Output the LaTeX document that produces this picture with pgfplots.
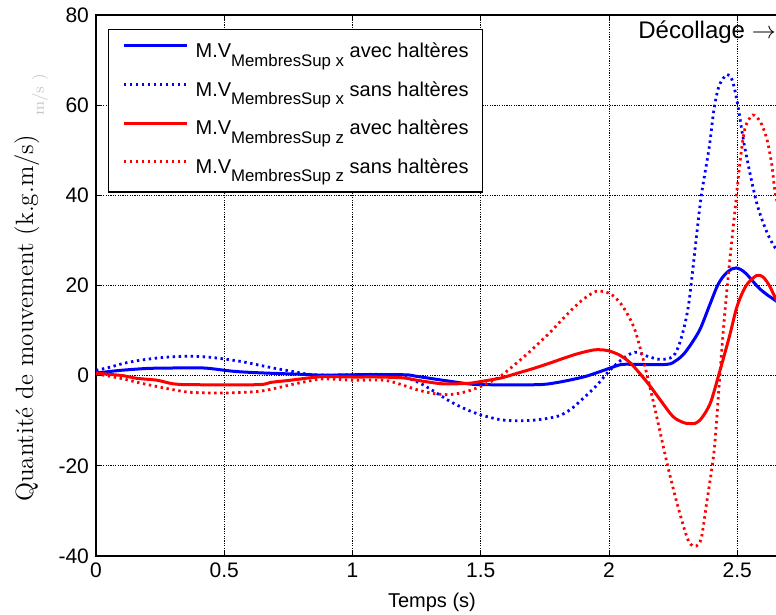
\documentclass[border=0pt]{standalone}
\usepackage{fontspec}
\newfontfamily\arial{Liberation Sans}
\usepackage{pgfplots}
\pgfplotsset{compat=1.18}
\usetikzlibrary{calc}
\newcommand{\sub}[1]{\raisebox{-4.3pt}{\fontsize{8.4}{9}\selectfont #1}}
\definecolor{mblue}{RGB}{0,0,255}
\definecolor{mred}{RGB}{255,0,0}

\pgfplotstableread{
t v
0 0.6
0.05 0.9
0.1 1.2
0.2 1.6
0.3 1.7
0.42 1.7
0.5 1.2
0.55 0.9
0.65 0.6
0.8 0.3
0.88 0.1
1.0 0.2
1.2 0.2
1.25 -0.15
1.35 -1.0
1.45 -1.8
1.51 -2.0
1.72 -2.0
1.80 -1.5
1.90 -0.3
1.96 0.8
2.0 1.6
2.05 2.5
2.1 2.5
2.225 2.5
2.26 3.3
2.29 4.7
2.32 7.0
2.355 10.3
2.39 15.3
2.42 19.6
2.44 21.6
2.46 22.9
2.48 23.7
2.496 23.9
2.515 23.5
2.535 22.6
2.56 21
2.587 19.3
2.62 17.8
2.651 16.6
2.7 14.5
}\bsa

\pgfplotstableread{
t v
0 1.2
0.05 1.8
0.105 2.7
0.17 3.4
0.237 3.9
0.3 4.2
0.37 4.3
0.44 4.1
0.5 3.7
0.57 3.1
0.63 2.4
0.7 1.6
0.76 1.0
0.83 0.3
0.9 0.1
1.0 0.2
1.1 0.3
1.18 0.0
1.25 -1.3
1.31 -3.2
1.38 -5.7
1.44 -7.4
1.5 -8.7
1.58 -9.8
1.65 -10
1.72 -9.8
1.80 -9.0
1.85 -7.5
1.90 -5.0
1.95 -2.3
2.0 1.0
2.05 3.6
2.10 5.2
2.15 4.3
2.2 3.6
2.25 4.3
2.28 8
2.31 15.6
2.34 30.4
2.36 40
2.39 50.4
2.41 59.3
2.43 64.4
2.46 66.8
2.48 65.6
2.5 60.7
2.53 50.4
2.575 38.5
2.615 31.9
2.651 28.1
2.7 25
}\bss

\pgfplotstableread{
t v
0 0.6
0.05 0.3
0.105 0.0
0.16 -0.6
0.237 -1.0
0.30 -1.8
0.37 -2.0
0.63 -2.0
0.68 -1.5
0.76 -1.0
0.83 -0.5
0.89 -0.2
1.0 -0.3
1.1 -0.3
1.2 -0.5
1.25 -1.0
1.35 -1.8
1.45 -1.7
1.5 -1.3
1.58 -0.5
1.64 0.5
1.70 1.5
1.77 2.8
1.83 4.0
1.88 4.9
1.94 5.7
1.98 5.7
2.0 5.5
2.04 4.6
2.08 3.0
2.12 0.5
2.16 -2.3
2.2 -5.4
2.25 -9.1
2.29 -10.4
2.31 -10.6
2.335 -10.6
2.36 -9.5
2.395 -6.1
2.43 0.6
2.47 8.8
2.5 15.5
2.535 20
2.575 22.2
2.6 21.9
2.625 20
2.651 17
2.7 12
}\rsa

\pgfplotstableread{
t v
0 0.4
0.05 -0.1
0.105 -0.7
0.17 -1.6
0.237 -2.4
0.3 -3.1
0.37 -3.7
0.5 -3.85
0.63 -3.5
0.7 -2.8
0.76 -2.0
0.83 -1.2
0.89 -0.7
1.0 -1.0
1.12 -1.0
1.18 -1.8
1.25 -3.1
1.32 -4.0
1.38 -4.2
1.44 -3.6
1.5 -2.4
1.55 -1.0
1.58 0
1.64 2.8
1.70 5.8
1.77 9.6
1.83 13.2
1.89 16.5
1.95 18.7
2.0 18.3
2.03 17.0
2.06 14.8
2.10 10.3
2.14 2.1
2.18 -7.6
2.23 -20.3
2.27 -29.3
2.31 -36.7
2.34 -37.8
2.36 -36
2.38 -28.5
2.41 -16.6
2.43 -1.6
2.45 13
2.47 25
2.49 36
2.51 47
2.53 54.8
2.56 57.8
2.59 56.3
2.615 52.6
2.635 46.7
2.65 40
2.7 28
}\rss

\begin{document}
\begin{tikzpicture}
\begin{axis}[
  scale only axis,
  width=384.75pt, height=270.5pt,
  xmin=0, xmax=3, ymin=-40, ymax=80,
  xtick={0,0.5,1,1.5,2,2.5}, xticklabels={0,0.5,1,1.5,2,2.5},
  ytick={-40,-20,0,20,40,60,80}, yticklabels={-40,-20,0,20,40,60,80},
  tick align=inside, major tick length=3pt,
  tick style={black, line width=0.5pt},
  axis line style={black, line width=1pt},
  grid=major,
  grid style={black, line width=0.5pt, dash pattern=on 0.6pt off 0.6pt},
  ticklabel style={font=\arial\fontsize{10.5}{12}\selectfont},
  xlabel={Temps (s)},
  every axis x label/.style={at={(rel axis cs:0.4366,0)}, yshift=-23pt, anchor=center, font=\arial\fontsize{10}{12}\selectfont},
  ylabel={Quantité de mouvement (k.g.m/s)},
  every axis y label/.style={at={(rel axis cs:0,0.439)}, xshift=-34.5pt, rotate=90, anchor=center, font=\fontsize{12.5}{14}\selectfont},
  legend cell align=left,
  legend image code/.code={\path[draw=none,fill=none] (0pt,0pt) rectangle (31.5pt,0pt); \draw[#1] (0pt,3.5pt) -- (31.5pt,3.5pt);},
  legend style={at={(rel axis cs:0,1)}, anchor=north west, xshift=6pt, yshift=-7pt,
    draw=black, line width=0.6pt, fill=white,
    font=\arial\fontsize{10}{12}\selectfont,
    inner xsep=7pt, inner ysep=2pt, column sep=3.5pt,
    nodes={inner sep=0pt, text height=12pt, text depth=7.3pt}},
]
\addplot[mblue, line width=1.5pt, smooth, tension=0.5] table[x=t,y=v]{\bsa};
\addlegendentry{M.V\sub{MembresSup x} avec haltères}
\addplot[mblue, line width=1.4pt, dash pattern=on 1.2pt off 1.8pt, smooth, tension=0.5] table[x=t,y=v]{\bss};
\addlegendentry{M.V\sub{MembresSup x} sans haltères}
\addplot[mred, line width=1.5pt, smooth, tension=0.5] table[x=t,y=v]{\rsa};
\addlegendentry{M.V\sub{MembresSup z} avec haltères}
\addplot[mred, line width=1.4pt, dash pattern=on 1.2pt off 1.8pt, smooth, tension=0.5] table[x=t,y=v]{\rss};
\addlegendentry{M.V\sub{MembresSup z} sans haltères}
\node[anchor=base west, inner sep=0pt, font=\arial\fontsize{12}{13}\selectfont] at (axis cs:2.113,74.7) {Décollage $\rightarrow$};
\coordinate (O) at (rel axis cs:0,0);
\end{axis}
\node[rotate=90, gray!45, inner sep=0pt, font=\fontsize{8}{9}\selectfont] at ($(O)+(-28pt,230.5pt)$) {m/s )};
\pgfresetboundingbox
\path[use as bounding box] ($(O)+(-48pt,-29.5pt)$) rectangle ($(O)+(340pt,278pt)$);
\end{tikzpicture}
\end{document}
